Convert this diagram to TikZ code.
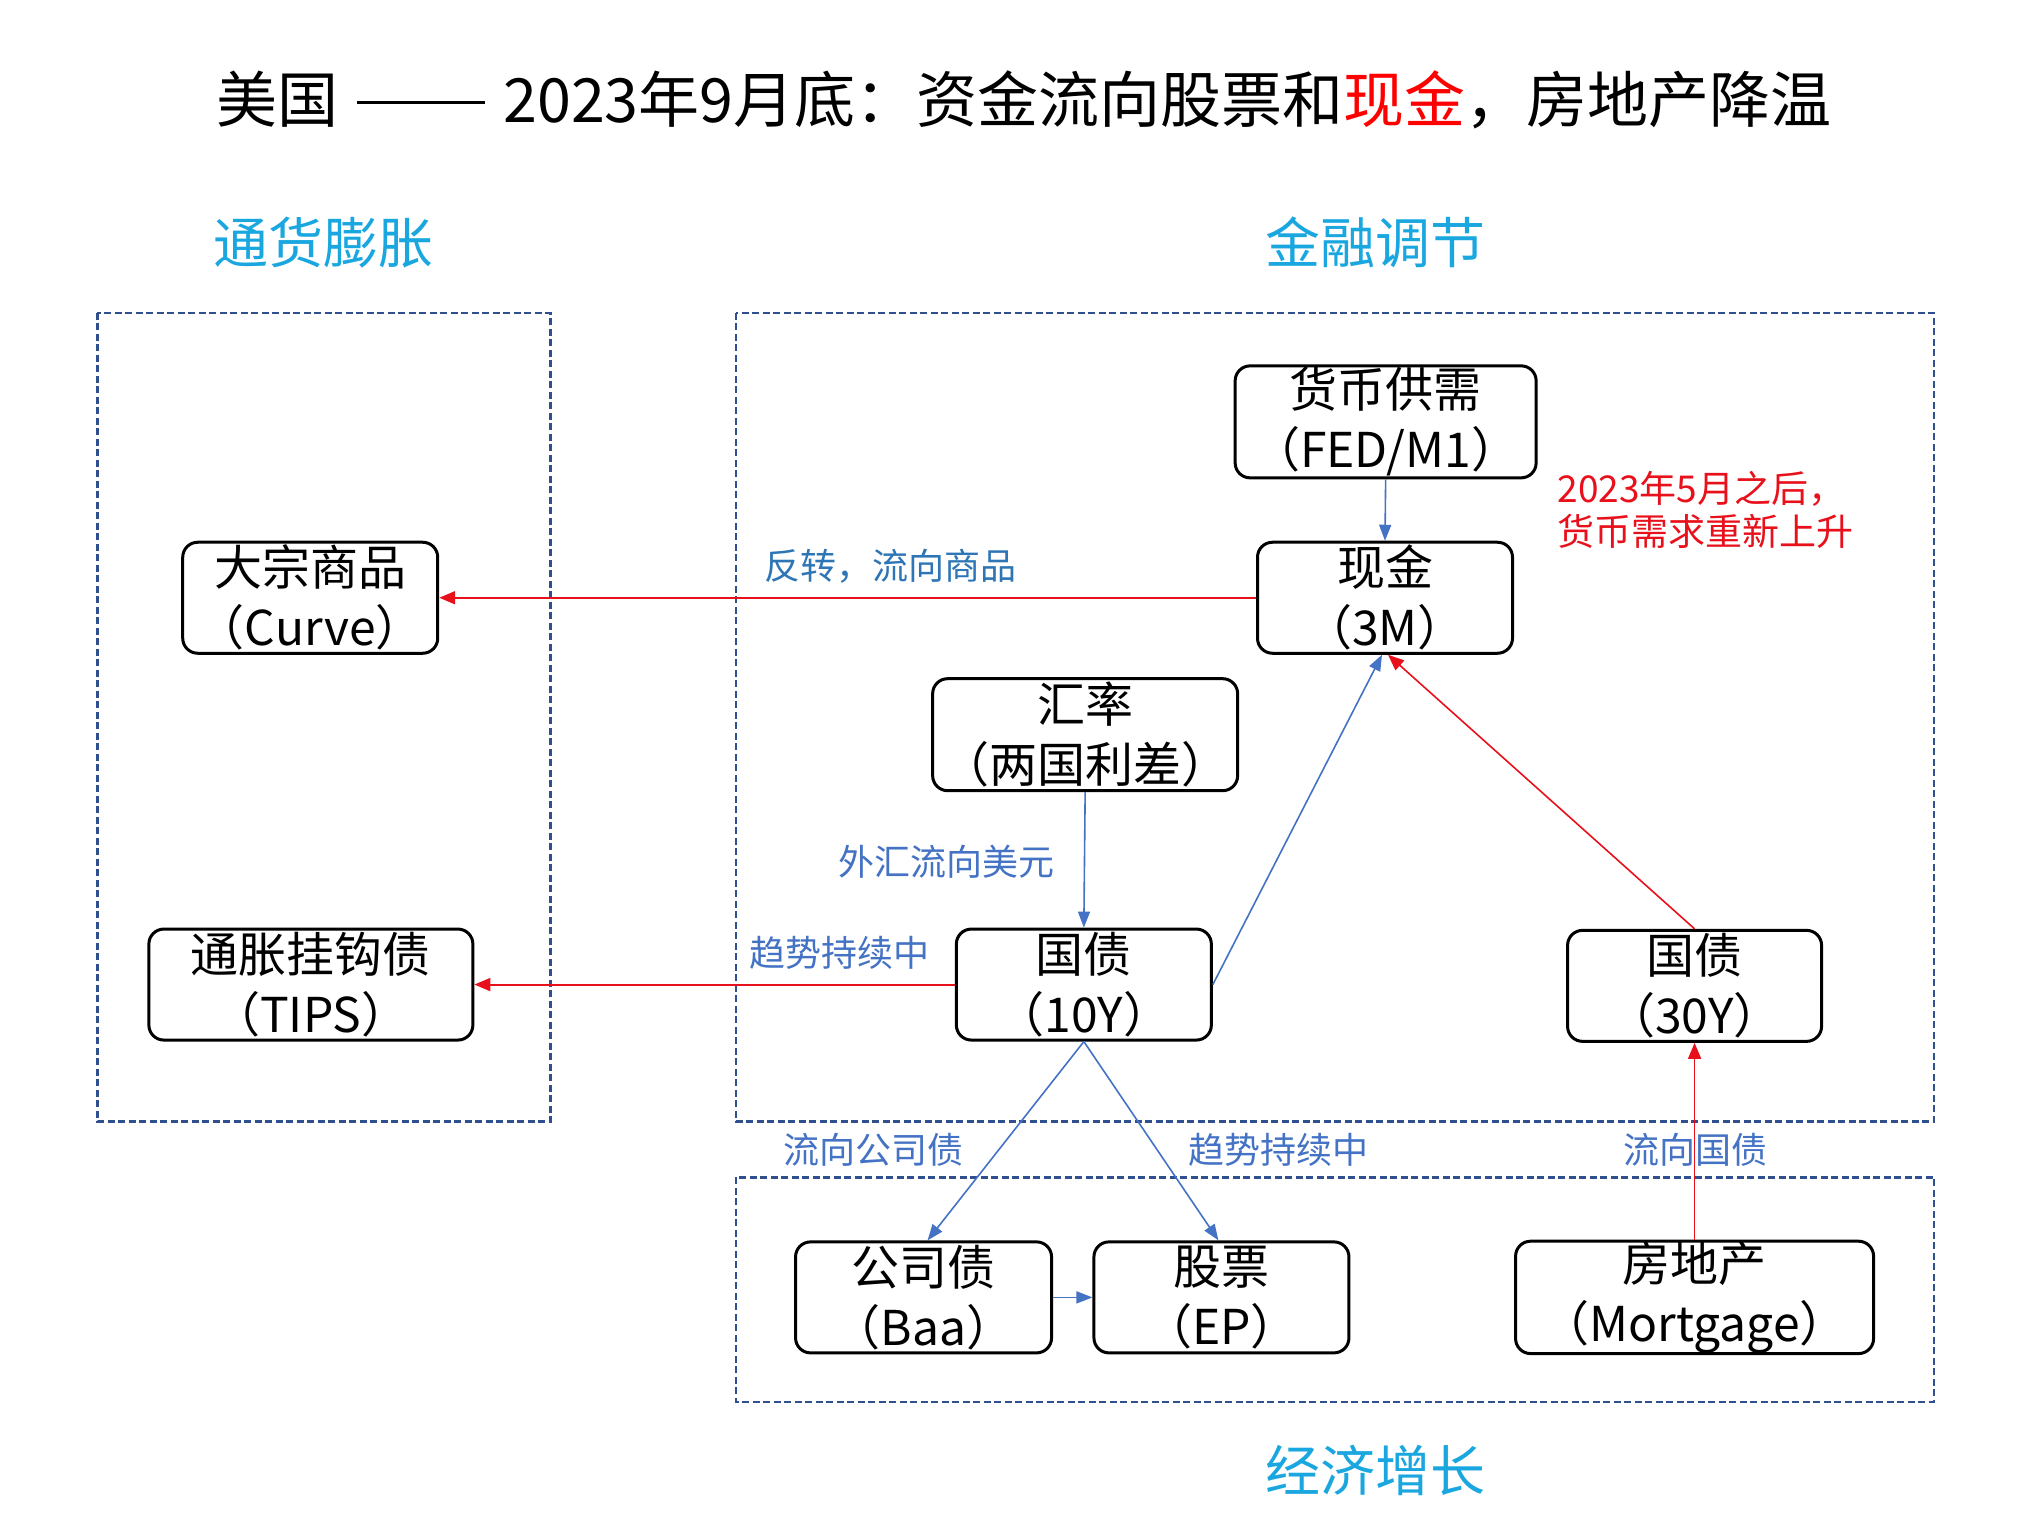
\documentclass[tikz,border=0pt]{standalone}
\usepackage{fontspec}
\setmainfont{Noto Sans CJK SC}
\usetikzlibrary{arrows.meta}
\definecolor{secblue}{HTML}{1AA7E0}
\definecolor{lblblue}{HTML}{4472C4}
\definecolor{lbldark}{HTML}{2E75B6}
\definecolor{boxblue}{HTML}{2F4F8F}
\definecolor{arrred}{HTML}{E8101A}
\definecolor{arrblue}{HTML}{4472C4}
\tikzset{
  region/.style={draw=boxblue,line width=2.4pt,dash pattern=on 7pt off 3.5pt},
  nbox/.style={draw=black,line width=3pt,rounded corners=15pt,align=center,inner sep=0pt,
    font=\fontsize{48}{60}\selectfont},
  sectitle/.style={text=secblue,font=\fontsize{55}{60}\selectfont,inner sep=0pt},
  elabel/.style={text=lblblue,font=\fontsize{36}{40}\selectfont,inner sep=0pt},
  redarrow/.style={draw=arrred,line width=2pt,-{Triangle[length=16pt,width=13pt]}},
  bluearrow/.style={draw=arrblue,line width=1.6pt,-{Triangle[length=16pt,width=12pt]}},
}
\begin{document}
\begin{tikzpicture}[x=1.298pt,y=-1.298pt]
\useasboundingbox (0,0) rectangle (1567,1183.4);
% title
\node[inner sep=0pt,font=\fontsize{61}{64}\selectfont] (title) at (789,77)
  {美国\hspace{0.3em}\rule[0.3em]{2.1em}{0.05em}\hspace{0.3em}2023年9月底：资金流向股票和\textcolor{red}{现金}，房地产降温};
% section titles
\node[sectitle] (s1) at (249,187) {通货膨胀};
\node[sectitle] (s2) at (1060,187) {金融调节};
\node[sectitle] (s3) at (1060,1133) {经济增长};
% regions
\draw[region] (75,241) rectangle (424,864);
\draw[region] (567,241) rectangle (1490,864);
\draw[region] (567,907) rectangle (1490,1080);
% labels
\node[elabel,text=lbldark] (l1) at (686,436) {反转，流向商品};
\node[elabel] (l2) at (729,664) {外汇流向美元};
\node[elabel] (l3) at (647,734) {趋势持续中};
\node[elabel] (l4) at (673,886) {流向公司债};
\node[elabel] (l5) at (985,886) {趋势持续中};
\node[elabel] (l6) at (1306,886) {流向国债};
\node[anchor=west,align=left,text=arrred,inner sep=0pt,font=\fontsize{37}{43}\selectfont] (note) at (1200,393)
  {2023年5月之后，\\货币需求重新上升};
% nodes
\node[nbox,minimum width=301pt,minimum height=112pt] (fed) at (1067.5,325) {货币供需\\（FED/M1）};
\node[nbox,minimum width=255pt,minimum height=111pt] (cash) at (1067,460.5) {现金\\（3M）};
\node[nbox,minimum width=255pt,minimum height=111pt] (curve) at (239,460.5) {大宗商品\\（Curve）};
\node[nbox,minimum width=305pt,minimum height=112pt] (fx) at (836,566) {汇率\\（两国利差）};
\node[nbox,minimum width=324pt,minimum height=111pt] (tips) at (239.5,758.5) {通胀挂钩债\\（TIPS）};
\node[nbox,minimum width=255pt,minimum height=111pt] (t10) at (835,758.5) {国债\\（10Y）};
\node[nbox,minimum width=254pt,minimum height=111pt] (t30) at (1305.5,759.5) {国债\\（30Y）};
\node[nbox,minimum width=256pt,minimum height=111pt] (baa) at (711.5,999.5) {公司债\\（Baa）};
\node[nbox,minimum width=255pt,minimum height=111pt] (ep) at (941,999.5) {股票\\（EP）};
\node[nbox,minimum width=358pt,minimum height=111pt] (mort) at (1305.5,999.5) {房地产\\（Mortgage）};
% edges
\draw[bluearrow] (fed.south) -- (cash.north);
\draw[redarrow] (cash.west) -- (curve.east);
\draw[bluearrow] (fx.south) -- (t10.north);
\draw[bluearrow] (t10.east) -- ([xshift=-3pt]cash.south);
\draw[redarrow,line width=1.6pt] (t30.north) -- ([xshift=3pt]cash.south);
\draw[redarrow] (t10.west) -- (tips.east);
\draw[bluearrow] (t10.south) -- ([xshift=4pt]baa.north);
\draw[bluearrow] (t10.south) -- ([xshift=-3pt]ep.north);
\draw[bluearrow] (baa.east) -- (ep.west);
\draw[redarrow,line width=1.6pt] (mort.north) -- (t30.south);
\end{tikzpicture}
\end{document}
